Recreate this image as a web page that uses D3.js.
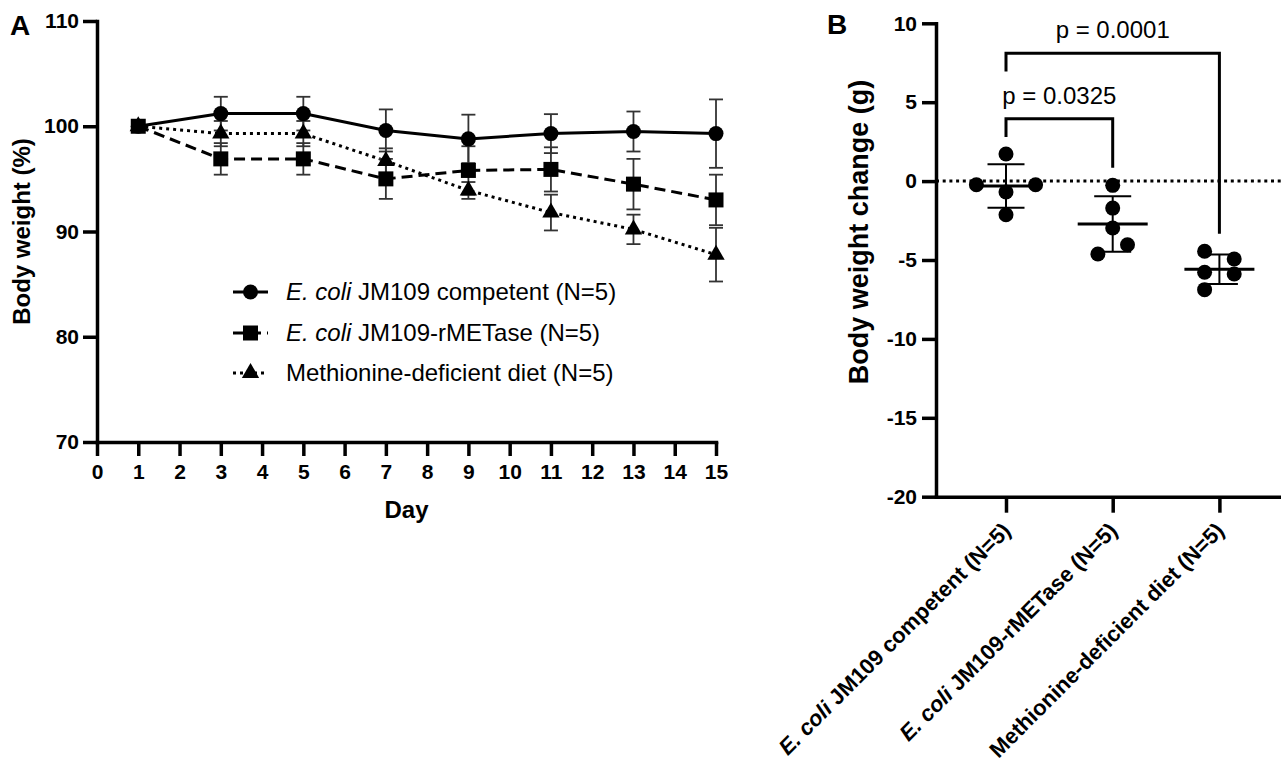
<!DOCTYPE html>
<html><head><meta charset="utf-8">
<script src="https://cdn.jsdelivr.net/npm/d3@7"></script>
<style>
body{margin:0;background:#fff}
svg{display:block;background:#fff}
</style>
</head><body>
<svg id="c" width="1281" height="768"></svg>
<script>
// ---------------- DATA ----------------
// Panel A: body weight (%) over days
const days = [1, 3, 5, 7, 9, 11, 13, 15];
const competentMean = [100, 101.2, 101.2, 99.6, 98.8, 99.3, 99.5, 99.3];
const competentSD   = [0, 1.6, 1.6, 2.0, 2.3, 1.85, 1.9, 3.25];
const rmetaseMean   = [100, 96.9, 96.9, 95.0, 95.8, 95.9, 94.5, 93.0];
const rmetaseSD     = [0, 1.5, 1.5, 1.9, 2.3, 2.1, 2.4, 2.4];
const metDefMean    = [100, 99.3, 99.3, 96.7, 93.9, 91.8, 90.2, 87.8];
const metDefSD      = [0, 1.2, 1.2, 1.2, 0.8, 1.7, 1.4, 2.55];
const xTicksA = [0,1,2,3,4,5,6,7,8,9,10,11,12,13,14,15];
const yTicksA = [70, 80, 90, 100, 110];
const seriesItalic = ["E. coli", "E. coli", ""];
const seriesRest = [" JM109 competent (N=5)", " JM109-rMETase (N=5)", "Methionine-deficient diet (N=5)"];

// Panel B: body weight change (g), individual animals
const groupsB = ["competent", "rMETase", "metdef"];
const groupItalic = ["E. coli", "E. coli", ""];
const groupRest = [" JM109 competent (N=5)", " JM109-rMETase (N=5)", "Methionine-deficient diet (N=5)"];
const competentChange = [1.72, -0.23, -0.23, -0.69, -2.13];
const rmetaseChange   = [-0.27, -1.71, -2.97, -4.03, -4.62];
const metDefChange    = [-4.45, -4.94, -5.78, -5.89, -6.88];
const yTicksB = [-20, -15, -10, -5, 0, 5, 10];
const compFrom = [0, 0];
const compTo   = [1, 2];
const compLevel = [3.95, 8.1];
const compLabel = ["p = 0.0325", "p = 0.0001"];

// ---------------- LAYOUT ----------------
const FONT = '"Liberation Sans", Arial, Helvetica, sans-serif';
const svg = d3.select("#c");
// swarm slot (layout of overlapping dots, in half-column units)
const swarmSlots = [[0,-2,2,0,0],[0,0,0,1,-1],[-1,1,-1,1,-1]];

function styleAxis(g, fs){
  g.select(".domain").attr("stroke","#000").attr("stroke-width",3.5).attr("stroke-linecap","square");
  g.selectAll(".tick line").attr("stroke","#000").attr("stroke-width",3.5);
  g.selectAll(".tick text").attr("fill","#000").style("font-family",FONT)
    .style("font-size",fs+"px").style("font-weight","bold");
}
const plain = d => String(d);

// ======== Panel A ========
const xA = d3.scaleLinear().domain([0,15]).range([97,716]);
const yA = d3.scaleLinear().domain([70,110]).range([442,21]);
const gA = svg.append("g");

gA.append("g").attr("transform",`translate(0,${yA(70)})`)
  .call(d3.axisBottom(xA).tickValues(xTicksA).tickSize(14).tickSizeOuter(0).tickPadding(8).tickFormat(plain))
  .call(g=>styleAxis(g,21));
gA.append("g").attr("transform",`translate(${xA(0)},0)`)
  .call(d3.axisLeft(yA).tickValues(yTicksA).tickSize(14).tickSizeOuter(0).tickPadding(4).tickFormat(plain))
  .call(g=>styleAxis(g,21));

gA.append("text").attr("x",xA(7.5)).attr("y",518).attr("text-anchor","middle")
  .style("font-family",FONT).style("font-size","24px").style("font-weight","bold").text("Day");
gA.append("text").attr("transform",`translate(30,${yA(90)}) rotate(-90)`).attr("text-anchor","middle")
  .style("font-family",FONT).style("font-size","24px").style("font-weight","bold").text("Body weight (%)");
svg.append("text").attr("x",10).attr("y",35).style("font-family",FONT).style("font-size","28px")
  .style("font-weight","bold").text("A");

const seriesA = [
  {mean: competentMean, sd: competentSD, sym: d3.symbolCircle, size: 177, dash: null},
  {mean: rmetaseMean, sd: rmetaseSD, sym: d3.symbolSquare, size: 225, dash: "11,6"},
  {mean: metDefMean, sd: metDefSD, sym: d3.symbolTriangle, size: 130, dash: "3,4"}
];

const line = d3.line().x((d,i)=>xA(days[i])).y(d=>yA(d));
seriesA.forEach(s=>{
  gA.append("path").attr("d", line(s.mean)).attr("fill","none").attr("stroke","#000")
    .attr("stroke-width",3).attr("stroke-dasharray", s.dash);
});
seriesA.forEach(s=>{
  s.mean.forEach((m,i)=>{
    if (!s.sd[i]) return;
    const x = xA(days[i]);
    const g = gA.append("g").attr("stroke","#333").attr("stroke-width",1.8);
    g.append("line").attr("x1",x).attr("x2",x).attr("y1",yA(m-s.sd[i])).attr("y2",yA(m+s.sd[i]));
    [m-s.sd[i], m+s.sd[i]].forEach(v=>{
      g.append("line").attr("x1",x-7).attr("x2",x+7).attr("y1",yA(v)).attr("y2",yA(v));
    });
  });
});
seriesA.forEach(s=>{
  gA.selectAll(null).data(s.mean).enter().append("path")
    .attr("d", d3.symbol().type(s.sym).size(s.size))
    .attr("transform",(d,i)=>`translate(${xA(days[i])},${yA(d)})`).attr("fill","#000");
});

// legend
const legY = [292, 333, 373];
seriesA.forEach((s,i)=>{
  const g = gA.append("g").attr("transform",`translate(233,${legY[i]})`);
  g.append("line").attr("x1",0).attr("x2",35).attr("stroke","#000").attr("stroke-width",3)
    .attr("stroke-dasharray", s.dash);
  g.append("path").attr("d", d3.symbol().type(s.sym).size(s.size)).attr("transform","translate(17.5,0)");
  const t = g.append("text").attr("x",53).attr("dy","0.35em").style("font-family",FONT).style("font-size","24px");
  if (seriesItalic[i]) t.append("tspan").style("font-style","italic").text(seriesItalic[i]);
  t.append("tspan").text(seriesRest[i]);
});

// ======== Panel B ========
const xB = d3.scalePoint().domain(groupsB).range([936,1289.4]).padding(0.656);
const yB = d3.scaleLinear().domain([-20,10]).range([496.7,23.3]);
const gB = svg.append("g");
const valuesB = [competentChange, rmetaseChange, metDefChange];

gB.append("g").attr("transform",`translate(${936},0)`)
  .call(d3.axisLeft(yB).tickValues(yTicksB).tickSize(14).tickSizeOuter(0).tickPadding(5).tickFormat(plain))
  .call(g=>styleAxis(g,21));
gB.append("g").attr("transform",`translate(0,${yB(-20)})`)
  .call(d3.axisBottom(xB).tickSize(16).tickSizeOuter(0).tickFormat(""))
  .call(g=>styleAxis(g,21));

gB.append("line").attr("x1",936).attr("x2",1281).attr("y1",yB(0)).attr("y2",yB(0))
  .attr("stroke","#000").attr("stroke-width",3).attr("stroke-dasharray","3,3.7");

groupsB.forEach((gname,i)=>{
  const t = gB.append("text").attr("transform",`translate(${xB(gname)+6},532) rotate(-45)`)
    .attr("text-anchor","end").style("font-family",FONT).style("font-size","22px").style("font-weight","bold");
  if (groupItalic[i]) t.append("tspan").style("font-style","italic").text(groupItalic[i]);
  t.append("tspan").text(groupRest[i]);
});

gB.append("text").attr("transform",`translate(868,232) rotate(-90)`).attr("text-anchor","middle")
  .style("font-family",FONT).style("font-size","27px").style("font-weight","bold").text("Body weight change (g)");
svg.append("text").attr("x",827).attr("y",34).style("font-family",FONT).style("font-size","28px")
  .style("font-weight","bold").text("B");

valuesB.forEach((vals,gi)=>{
  const cx = xB(groupsB[gi]);
  gB.selectAll(null).data(vals).enter().append("circle")
    .attr("cx",(d,j)=>cx + swarmSlots[gi][j]*14.8).attr("cy",d=>yB(d)).attr("r",7.5).attr("fill","#000");
});
valuesB.forEach((vals,gi)=>{
  const cx = xB(groupsB[gi]);
  const m = d3.mean(vals), sd = d3.deviation(vals);
  gB.append("line").attr("x1",cx-35).attr("x2",cx+35).attr("y1",yB(m)).attr("y2",yB(m))
    .attr("stroke","#000").attr("stroke-width",3);
  const g = gB.append("g").attr("stroke","#000").attr("stroke-width",2);
  g.append("line").attr("x1",cx).attr("x2",cx).attr("y1",yB(m-sd)).attr("y2",yB(m+sd));
  [m-sd,m+sd].forEach(v=>g.append("line").attr("x1",cx-18.5).attr("x2",cx+18.5).attr("y1",yB(v)).attr("y2",yB(v)));
});
compFrom.forEach((f,k)=>{
  const xL = xB(groupsB[f]), xR = xB(groupsB[compTo[k]]);
  const lvl = compLevel[k];
  const leftEnd = lvl - 1.15;
  const rightEnd = d3.max(valuesB[compTo[k]]) + 1.12;
  gB.append("path").attr("d",`M${xL},${yB(leftEnd)}V${yB(lvl)}H${xR}V${yB(rightEnd)}`)
    .attr("fill","none").attr("stroke","#000").attr("stroke-width",3);
  gB.append("text").attr("x",(xL+xR)/2).attr("y",yB(lvl)-15).attr("text-anchor","middle")
    .style("font-family",FONT).style("font-size","24px").text(compLabel[k]);
});
</script>
</body></html>
